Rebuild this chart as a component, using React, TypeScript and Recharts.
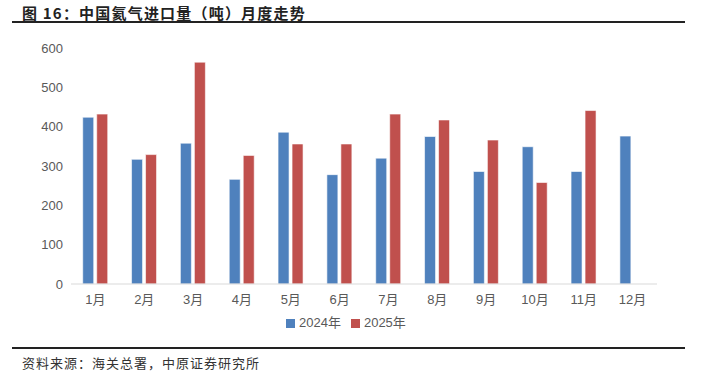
import { BarChart, Bar, XAxis, YAxis, Legend } from "recharts";

const months = ["1月", "2月", "3月", "4月", "5月", "6月", "7月", "8月", "9月", "10月", "11月", "12月"];
const imports2024 = [424, 317, 358, 266, 386, 278, 320, 375, 286, 349, 286, 376];
const imports2025: (number | null)[] = [432, 329, 564, 327, 356, 356, 432, 417, 366, 258, 441, null];
const yTicks = [0, 100, 200, 300, 400, 500, 600];

const data = months.map((m, i) => ({
  month: m,
  y2024: imports2024[i],
  y2025: imports2025[i],
}));

const BLUE = "#4F81BD";
const RED = "#C0504D";
const FONT = "'Liberation Sans', Arial, 'Noto Sans CJK SC', sans-serif";

export default function App() {
  return (
    <div
      style={{
        position: "absolute",
        left: 0,
        top: 0,
        width: 704,
        height: 374,
        background: "#fff",
        fontFamily: FONT,
      }}
    >
      <div
        style={{
          position: "absolute",
          left: 22,
          top: 2,
          fontSize: 15,
          fontWeight: 700,
          color: "#222",
          fontFamily: "'Noto Sans CJK SC', sans-serif",
          letterSpacing: 1.2,
        }}
      >
        图 16：中国氦气进口量（吨）月度走势
      </div>
      <div style={{ position: "absolute", left: 12, top: 21, width: 673, height: 2, background: "#222" }} />

      <div style={{ position: "absolute", left: 0, top: 0 }}>
        <BarChart
          width={704}
          height={374}
          data={data}
          margin={{ top: 48, right: 47, left: 31, bottom: 49 }}
          barGap={3}
          barCategoryGap="24%"
        >
          <XAxis
            dataKey="month"
            axisLine={{ stroke: "#D9D9D9" }}
            tickLine={false}
            tickMargin={5}
            tick={{ fill: "#595959", fontSize: 13, fontFamily: FONT }}
            height={22}
            interval={0}
          />
          <YAxis
            domain={[0, 600]}
            ticks={yTicks}
            axisLine={false}
            tickLine={false}
            width={40}
            tick={{ fill: "#595959", fontSize: 13, fontFamily: FONT }}
          />
          <Legend
            iconType="square"
            iconSize={9}
            wrapperStyle={{ top: 312, left: 286, width: "auto", fontSize: 13, color: "#595959" }}
            formatter={(v) => <span style={{ color: "#595959" }}>{v}</span>}
          />
          <Bar dataKey="y2024" name="2024年" fill={BLUE} stroke="#fff" strokeWidth={0.6} isAnimationActive={false} />
          <Bar dataKey="y2025" name="2025年" fill={RED} stroke="#fff" strokeWidth={0.6} isAnimationActive={false} />
        </BarChart>
      </div>

      <div style={{ position: "absolute", left: 12, top: 347, width: 673, height: 2, background: "#222" }} />
      <div
        style={{
          position: "absolute",
          left: 22,
          top: 353,
          fontSize: 13,
          color: "#333",
          fontFamily: "'Noto Sans CJK SC', sans-serif",
          letterSpacing: 1,
        }}
      >
        资料来源：海关总署，中原证券研究所
      </div>
    </div>
  );
}
